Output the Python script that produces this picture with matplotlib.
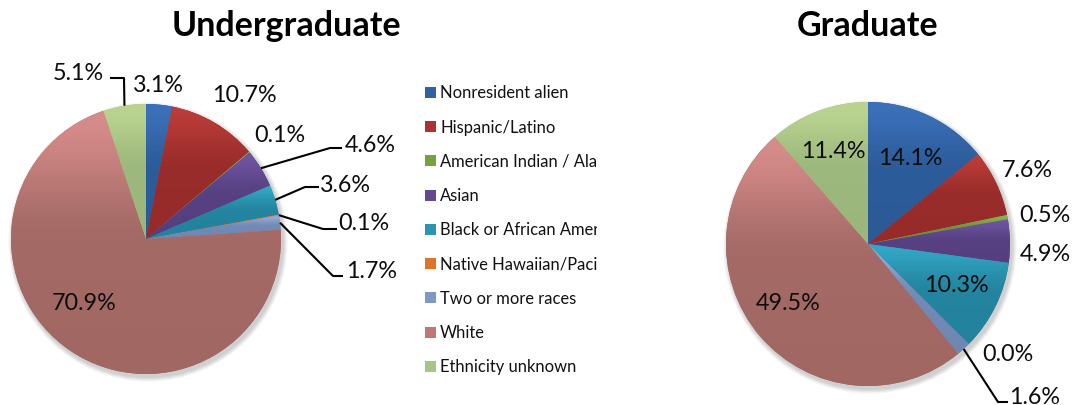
import numpy as np
import matplotlib
matplotlib.use("Agg")
import matplotlib.pyplot as plt
from matplotlib.colors import to_rgb

plt.rcParams['font.family'] = ['Lato', 'DejaVu Sans']

# ---------------- data ----------------
categories = ["Nonresident alien", "Hispanic/Latino", "American Indian / Alaska Native",
              "Asian", "Black or African American", "Native Hawaiian/Pacific Islander",
              "Two or more races", "White", "Ethnicity unknown"]
undergrad = [3.1, 10.7, 0.1, 4.6, 3.6, 0.1, 1.7, 70.9, 5.1]
graduate = [14.1, 7.6, 0.5, 4.9, 10.3, 0.0, 1.6, 49.5, 11.4]
titles = ["Undergraduate", "Graduate"]

# ---------------- styles ----------------
grad_colors = [  # (top, bottom) of each slice's shading
    ("#3B71BA", "#2B5A97"),
    ("#BB3C39", "#962B29"),
    ("#8DB34E", "#6F9137"),
    ("#6F55A1", "#563F80"),
    ("#32A7C5", "#23829D"),
    ("#F18A3A", "#D46A1C"),
    ("#96AED8", "#6E87B3"),
    ("#D68C8A", "#A06763"),
    ("#BAD490", "#9BB67B"),
]
legend_colors = ["#2F61A3", "#AA3331", "#78A03F", "#65498F", "#2B94B0",
                 "#E07325", "#7F98C6", "#C27673", "#A8C588"]

W, H = 1078, 406
def P(px, py):
    return (px, H - py)

# pie geometry (pixel layout)
pies = [dict(center=(146, 240), r=135), dict(center=(868, 245), r=142)]
title_pos = [(286, 26), (868, 26)]

# label layout: (center x, baseline y) in pixels, and leader elbows
label_pos = [
    [(158, 92), (244, 102), (280, 142), (370, 152), (345, 192), (364, 230), (372, 278), (84, 310), (78, 80)],
    [(910, 165), (1027, 177), (1045, 222), (1045, 261), (956, 292), (1008, 361), (1035, 404), (788, 310), (833, 158)],
]
leaders = [
    {3: [(330, 149), (342, 149)], 4: [(305, 188), (319, 188)], 5: [(323, 230), (337, 230)],
     6: [(333, 277), (343, 277)], 8: [(124, 79), (110, 79)]},
    {6: [(998, 403), (1008, 403)]},
]

fig = plt.figure(figsize=(W / 100, H / 100), dpi=100)
ax = fig.add_axes([0, 0, 1, 1])

def gradient_image(top, bot, n=256):
    t = np.linspace(0, 1, n)
    s = np.clip(t / 0.5, 0, 1)
    s = s * s * (3 - 2 * s)
    s = 0.85 * s + 0.15 * t
    c0 = np.array(to_rgb(top)); c1 = np.array(to_rgb(bot))
    img = c0[None, :] * (1 - s[:, None]) + c1[None, :] * s[:, None]
    return img[:, None, :]

for k, vals in enumerate([undergrad, graduate]):
    cx, cy = pies[k]['center']
    r = pies[k]['r']
    C = P(cx, cy)
    # soft shadow
    for i, a in enumerate([0.05, 0.05, 0.05, 0.04]):
        sh = plt.Circle((C[0] + 2, C[1] - 3), r + 1 + i * 1.2, color="#000000", alpha=a, lw=0, zorder=0.5)
        ax.add_patch(sh)
    wedges, _ = ax.pie(vals, colors=[c[1] for c in grad_colors], startangle=90,
                       counterclock=False, center=C, radius=r, frame=True,
                       wedgeprops=dict(linewidth=0))
    for w, (top, bot), v in zip(wedges, grad_colors, vals):
        w.set_zorder(1)
        if v <= 0:
            continue
        verts = w.get_patch_transform().transform(w.get_path().vertices)
        x0, y0 = verts.min(axis=0); x1, y1 = verts.max(axis=0)
        im = ax.imshow(gradient_image(top, bot), extent=(x0, x1, y0, y1), origin='upper',
                       interpolation='bilinear', aspect='auto', zorder=1.5)
        im.set_clip_path(w)
    # labels
    total = sum(vals)
    ang = 90.0
    for i, v in enumerate(vals):
        theta = ang - 360.0 * v / total / 2
        ang -= 360.0 * v / total
        lx, ly = label_pos[k][i]
        ax.text(*P(lx, ly), f"{v:.1f}%", ha='center', va='baseline', fontsize=16.8,
                color='#0d0d0d', zorder=5)
        if i in leaders[k]:
            ex = C[0] + r * np.cos(np.radians(theta))
            ey = C[1] + r * np.sin(np.radians(theta))
            pts = [(ex, ey)] + [P(*p) for p in leaders[k][i]]
            xs, ys = zip(*pts)
            ax.plot(xs, ys, color='black', lw=1.5, zorder=4, solid_capstyle='butt')
    tx, ty = title_pos[k]
    ax.text(*P(tx, ty), titles[k], ha='center', va='center', fontsize=24.5,
            fontweight='bold', color='black')

# legend (clipped like the original)
leg_ax = fig.add_axes([421 / W, 0.05, (597 - 421) / W, 0.9])
leg_ax.set_xlim(421, 597)
leg_ax.set_ylim(H - 0.95 * H, H - 0.05 * H)
leg_ax.axis('off')
leg_y0, leg_dy = 93.3, 34.25
for i, (cat, col) in enumerate(zip(categories, legend_colors)):
    yy = H - (leg_y0 + i * leg_dy)
    leg_ax.add_patch(plt.Rectangle((425, yy - 5.5), 11, 11, facecolor=col, lw=0, clip_on=True))
    leg_ax.text(440, yy, cat, ha='left', va='center', fontsize=11.9, color='#111111', clip_on=True)

ax.set_xlim(0, W)
ax.set_ylim(0, H)
ax.set_aspect('auto')
ax.axis('off')

fig.savefig("out.png", dpi=100)
